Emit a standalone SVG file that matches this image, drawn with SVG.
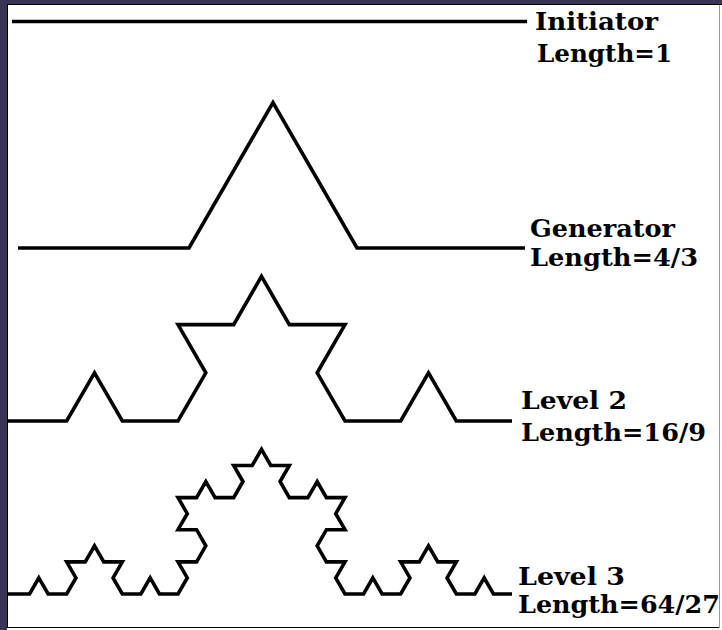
<svg xmlns="http://www.w3.org/2000/svg" width="722" height="630" viewBox="0 0 722 630">
<style>
.curve{fill:none;stroke:#000;stroke-width:3.6;stroke-linejoin:miter;stroke-linecap:butt}
.lbl{font-family:"DejaVu Serif","Liberation Serif",serif;font-weight:bold;font-size:24px;fill:#000}
</style>
<rect x="0" y="0" width="722" height="630" fill="#ffffff"/>
<rect x="0" y="0" width="722" height="4" fill="#393454"/>
<rect x="0" y="0" width="7" height="630" fill="#393454"/>
<line x1="7" y1="4.5" x2="722" y2="4.5" stroke="#000" stroke-width="1"/>
<line x1="7.5" y1="4" x2="7.5" y2="628" stroke="#000" stroke-width="1"/>
<line x1="7" y1="627.5" x2="720" y2="627.5" stroke="#000" stroke-width="1"/>
<line x1="719.5" y1="5" x2="719.5" y2="628" stroke="#9a9a9a" stroke-width="1"/>

<g id="initiator">
<path class="curve" d="M12 21.5 L527 21.5"/>
<text class="lbl" x="535" y="30" textLength="123" lengthAdjust="spacingAndGlyphs">Initiator</text>
<text class="lbl" x="537" y="62" textLength="135" lengthAdjust="spacingAndGlyphs">Length=1</text>
</g>

<g id="generator">
<path class="curve" d="M18 248 L189 248 L273 102.5 L357 248 L525 248"/>
<text class="lbl" x="530" y="237" textLength="145" lengthAdjust="spacingAndGlyphs">Generator</text>
<text class="lbl" x="530" y="266" textLength="168" lengthAdjust="spacingAndGlyphs">Length=4/3</text>
</g>

<g id="level2">
<path class="curve" d="M8 421 L66.67 421 L94.5 372.79 L122.33 421 L178 421 L205.83 372.79 L178 324.58 L233.67 324.58 L261.5 276.37 L289.33 324.58 L345 324.58 L317.17 372.79 L345 421 L400.67 421 L428.5 372.79 L456.33 421 L512 421"/>
<text class="lbl" x="521" y="409" textLength="106" lengthAdjust="spacingAndGlyphs">Level 2</text>
<text class="lbl" x="521" y="441" textLength="185" lengthAdjust="spacingAndGlyphs">Length=16/9</text>
</g>

<g id="level3">
<path class="curve" d="M8 594 L29.56 594 L38.83 577.93 L48.11 594 L66.67 594
L75.94 577.93 L66.67 561.86 L85.22 561.86 L94.5 545.79
L103.78 561.86 L122.33 561.86 L113.06 577.93 L122.33 594
L140.89 594 L150.17 577.93 L159.44 594 L178 594
L187.28 577.93 L178 561.86 L196.56 561.86 L205.83 545.79
L196.56 529.72 L178 529.72 L187.28 513.65 L178 497.58
L196.56 497.58 L205.83 481.51 L215.11 497.58 L233.67 497.58
L242.94 481.51 L233.67 465.44 L252.22 465.44 L261.5 449.37
L270.78 465.44 L289.33 465.44 L280.06 481.51 L289.33 497.58
L307.89 497.58 L317.17 481.51 L326.44 497.58 L345 497.58
L335.72 513.65 L345 529.72 L326.44 529.72 L317.17 545.79
L326.44 561.86 L345 561.86 L335.72 577.93 L345 594
L363.56 594 L372.83 577.93 L382.11 594 L400.67 594
L409.94 577.93 L400.67 561.86 L419.22 561.86 L428.5 545.79
L437.78 561.86 L456.33 561.86 L447.06 577.93 L456.33 594
L474.89 594 L484.17 577.93 L493.44 594 L512 594"/>
<text class="lbl" x="518" y="585" textLength="107" lengthAdjust="spacingAndGlyphs">Level 3</text>
<text class="lbl" x="518" y="613" textLength="202" lengthAdjust="spacingAndGlyphs">Length=64/27</text>
</g>
</svg>
